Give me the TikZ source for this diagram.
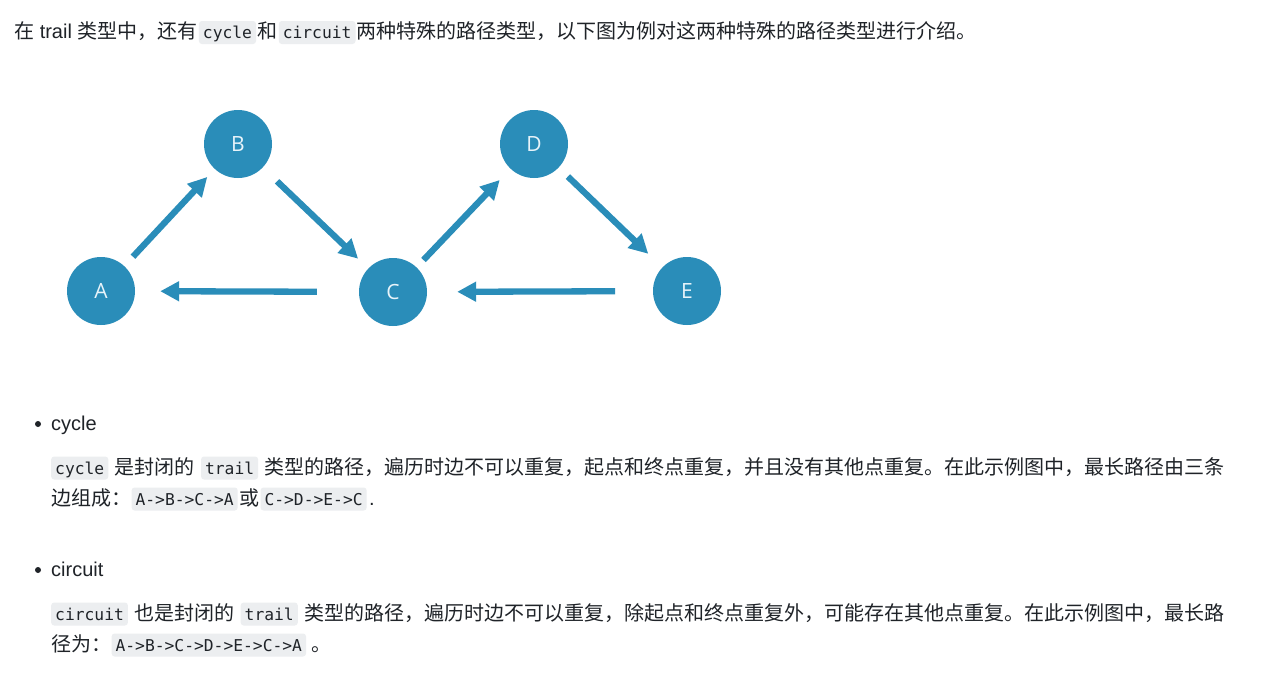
\documentclass[tikz,border=0pt]{standalone}
\usepackage{fontspec}
\setmainfont{Liberation Sans}
\newfontfamily\cjk{Noto Sans CJK SC}
\newfontfamily\codef{DejaVu Sans Mono}
\newfontfamily\vfont{Open Sans}
\usetikzlibrary{arrows.meta}
\definecolor{txtc}{RGB}{31,35,40}
\definecolor{codebg}{RGB}{236,238,240}
\definecolor{vblue}{RGB}{42,141,185}
\definecolor{vtext}{RGB}{232,244,250}
\tikzset{
  vert/.style={circle, fill=vblue, minimum size=68pt, inner sep=0pt, text=vtext, font=\vfont\fontsize{21}{24}\selectfont},
  arr/.style={draw=vblue, line width=6.3pt, -{Triangle[length=19pt,width=19pt]}},
  txt/.style={inner sep=0pt, anchor=base west, text=txtc, font=\fontsize{20}{24}\selectfont},
  code/.style={anchor=base west, fill=codebg, rounded corners=3pt, inner xsep=4pt, inner ysep=0pt, text height=17.5pt, text depth=5.5pt, text=txtc, font=\codef\fontsize{16.3}{20}\selectfont},
  bul/.style={circle, fill=txtc, minimum size=6pt, inner sep=0pt}
}
\begin{document}
\begin{tikzpicture}[x=1pt,y=-1pt]
\useasboundingbox[fill=white] (0,0) rectangle (1282,681);
% ---- line 1
\node[txt] (t1a) at (14,38.5) {{\cjk 在} trail {\cjk 类型中，还有}};
\node[code] (t1b) at ([xshift=1pt]t1a.base east) {cycle};
\node[txt] (t1c) at ([xshift=1pt]t1b.base east) {\cjk 和};
\node[code] (t1d) at ([xshift=1pt]t1c.base east) {circuit};
\node[txt] (t1e) at ([xshift=1pt]t1d.base east) {\cjk 两种特殊的路径类型，以下图为例对这两种特殊的路径类型进行介绍。};
% ---- graph
\node[vert] (A) at (101,291) {A};
\node[vert] (B) at (238,144) {B};
\node[vert] (C) at (393,292) {C};
\node[vert] (D) at (534,144) {D};
\node[vert] (E) at (687,291) {E};
\draw[arr, shorten <=12.7pt, shorten >=10.8pt] (A) -- (B);
\draw[arr, shorten <=19.8pt, shorten >=14pt] (B) -- (C);
\draw[arr, shorten <=42pt, shorten >=25pt] (C) -- (A);
\draw[arr, shorten <=10pt, shorten >=15.5pt] (C) -- (D);
\draw[arr, shorten <=12.8pt, shorten >=19.5pt] (D) -- (E);
\draw[arr, shorten <=37.7pt, shorten >=30pt] (E) -- (C);
% ---- cycle
\node[bul] (b1) at (38,424) {};
\node[txt] (c0) at (51,430) {cycle};
\node[code] (c1) at (51,474) {cycle};
\node[txt] (c2) at ([xshift=6pt]c1.base east) {\cjk 是封闭的};
\node[code] (c3) at ([xshift=6pt]c2.base east) {trail};
\node[txt] (c4) at ([xshift=6pt]c3.base east) {\cjk 类型的路径，遍历时边不可以重复，起点和终点重复，并且没有其他点重复。在此示例图中，最长路径由三条};
\node[txt] (c5) at (51,505) {\cjk 边组成：};
\node[code] (c6) at ([xshift=0pt]c5.base east) {A->B->C->A};
\node[txt] (c7) at ([xshift=1pt]c6.base east) {\cjk 或};
\node[code] (c8) at ([xshift=1pt]c7.base east) {C->D->E->C};
\node[txt] (c9) at ([xshift=2pt]c8.base east) {.};
% ---- circuit
\node[bul] (b2) at (38,570) {};
\node[txt] (d0) at (51,576) {circuit};
\node[code] (d1) at (51,620) {circuit};
\node[txt] (d2) at ([xshift=6pt]d1.base east) {\cjk 也是封闭的};
\node[code] (d3) at ([xshift=6pt]d2.base east) {trail};
\node[txt] (d4) at ([xshift=6pt]d3.base east) {\cjk 类型的路径，遍历时边不可以重复，除起点和终点重复外，可能存在其他点重复。在此示例图中，最长路};
\node[txt] (d5) at (51,651) {\cjk 径为：};
\node[code] (d6) at ([xshift=0pt]d5.base east) {A->B->C->D->E->C->A};
\node[txt] (d7) at ([xshift=5pt]d6.base east) {\cjk 。};
\end{tikzpicture}
\end{document}
